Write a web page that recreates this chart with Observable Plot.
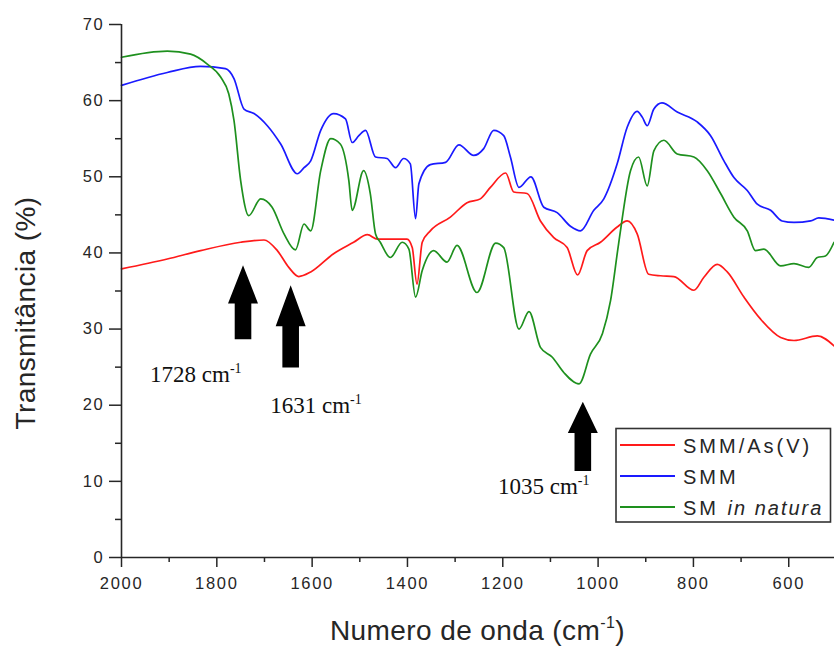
<!DOCTYPE html>
<html>
<head>
<meta charset="utf-8">
<script src="https://cdn.jsdelivr.net/npm/d3@7"></script>
<script src="https://cdn.jsdelivr.net/npm/@observablehq/plot@0.6"></script>
<style>
html, body { margin: 0; padding: 0; background: #fff; }
#chart svg { display: block; }
[aria-label$="tick label"] text { letter-spacing: 1.7px; }
</style>
</head>
<body>
<div id="chart"></div>
<script>
// ---- series ----
const seriesNames = ["SMM/As(V)", "SMM", "SM in natura"];
const seriesColors = ["#ff1a1a", "#1a1aff", "#1e901e"];

const waveRed = [2000,1904,1834,1750,1701,1673,1649,1628,1603,1555,1513,1484,1463,1401,1390,1380,1369,1352,1310,1275,1247,1226,1194,1177,1149,1121,1093,1065,1043,1023,995,960,939,918,894,869,841,799,778,750,729,694,659,617,589,540,505];
const tRed = [37.9,39.2,40.3,41.4,41.7,40.3,38.1,36.9,37.5,39.9,41.4,42.4,41.8,41.8,40.7,35.9,41.4,42.9,44.7,46.6,47.1,48.6,50.5,48.0,47.8,44.2,42.0,40.7,37.1,40.3,41.4,43.4,44.2,42.5,37.2,37.0,36.9,35.1,36.8,38.5,37.5,34.2,31.3,28.9,28.5,29.1,27.8];

const waveBlue = [2000,1904,1834,1782,1764,1743,1722,1694,1666,1631,1617,1603,1582,1555,1530,1516,1502,1488,1467,1443,1425,1408,1394,1383,1376,1352,1320,1292,1261,1240,1219,1198,1184,1166,1141,1114,1086,1058,1037,1009,988,960,939,918,907,897,883,866,834,792,764,736,715,687,666,638,614,589,554,537,505];
const tBlue = [62.0,63.7,64.5,64.2,62.9,58.9,58.3,56.7,54.3,50.4,51.2,52.1,56.1,58.3,57.6,54.5,55.4,56.1,52.6,52.4,51.2,52.4,51.7,44.5,49.1,51.6,51.9,54.2,52.8,53.7,56.1,55.4,52.6,48.6,50.0,46.0,45.3,43.5,42.9,45.6,47.1,51.7,56.5,58.6,57.8,56.7,58.9,59.7,58.5,57.2,55.4,52.1,49.9,48.2,46.4,45.6,44.2,44.0,44.2,44.6,44.3];

const waveGreen = [2000,1904,1855,1820,1792,1775,1764,1750,1733,1708,1684,1659,1635,1617,1603,1582,1561,1541,1523,1516,1492,1478,1467,1457,1436,1411,1397,1383,1369,1345,1317,1296,1254,1215,1198,1166,1145,1121,1096,1072,1040,1016,991,974,957,932,915,897,883,862,834,799,771,743,715,687,670,652,617,589,558,540,523,505];
const tGreen = [65.7,66.5,66.1,64.8,63.1,60.9,57.4,49.5,44.9,47.1,46.0,42.5,40.4,43.8,42.9,50.8,55.0,54.3,49.5,45.6,50.8,47.8,42.5,41.4,39.4,41.4,40.5,34.2,37.7,40.3,38.8,41.0,34.8,41.3,40.7,30.0,32.3,27.6,26.3,24.3,22.8,26.7,29.4,33.7,41.2,50.8,52.6,48.8,53.4,54.8,53.0,52.6,50.8,47.8,44.7,42.9,40.3,40.5,38.3,38.6,38.1,39.4,39.6,41.4];

// ---- ticks ----
const xMajorTicks = [2000,1800,1600,1400,1200,1000,800,600];
const xMinorTicks = [1900,1700,1500,1300,1100,900,700];
const yMajorTicks = [0,10,20,30,40,50,60,70];
const yMinorTicks = [5,15,25,35,45,55,65];

// ---- annotations ----
const peakNumbers = ["1728", "1631", "1035"];
const arrowWave = [1744, 1644, 1031];
const arrowTip = [38.3, 35.7, 20.4];
const arrowNeck = [33.3, 30.3, 16.3];
const arrowTail = [28.6, 24.9, 11.3];
const labelWave = [1939, 1687, 1209];
const labelT = [23.0, 18.9, 8.3];

const xTitle = "Numero de onda (cm";
const yTitle = "Transmitância (%)";

const table = [];
[[waveRed, tRed, 0], [waveBlue, tBlue, 1], [waveGreen, tGreen, 2]].forEach(([w, t, i]) => {
  w.forEach((x, j) => table.push({wave: x, t: t[j], series: seriesNames[i]}));
});

const ink = "#262626";

function arrowsMark(index, scales) {
  const {x, y} = scales;
  const g = d3.create("svg:g").attr("fill", "#000");
  arrowWave.forEach((w, i) => {
    const cx = x(w), yt = y(arrowTip[i]), yn = y(arrowNeck[i]), yb = y(arrowTail[i]);
    const hw = 15, sw = 8.3;
    g.append("path").attr("d",
      `M${cx},${yt}L${cx + hw},${yn}L${cx + sw},${yn}L${cx + sw},${yb}L${cx - sw},${yb}L${cx - sw},${yn}L${cx - hw},${yn}Z`);
  });
  return g.node();
}

function peakLabelMark(index, scales) {
  const {x, y} = scales;
  const g = d3.create("svg:g")
    .attr("font-family", "'Liberation Serif','Times New Roman',serif")
    .attr("font-size", 23).attr("fill", "#111").attr("text-anchor", "start");
  peakNumbers.forEach((s, i) => {
    const t = g.append("text").attr("x", x(labelWave[i])).attr("y", y(labelT[i]));
    t.append("tspan").text(s + " cm");
    t.append("tspan").attr("font-size", 14).attr("dy", -9).text("-1");
  });
  return g.node();
}

function titlesMark(index, scales, values, dims) {
  const {width, height, marginLeft, marginRight} = dims;
  const g = d3.create("svg:g").attr("fill", ink)
    .attr("font-family", "'Liberation Sans', Arial, sans-serif").attr("font-size", 28);
  const cx = (marginLeft + width - marginRight) / 2;
  const xt = g.append("text").attr("x", cx).attr("y", height - 8)
    .attr("text-anchor", "middle").attr("letter-spacing", 0.4);
  xt.append("tspan").text(xTitle);
  xt.append("tspan").attr("font-size", 16).attr("dy", -12).text("-1");
  xt.append("tspan").attr("dy", 12).text(")");
  g.append("text").attr("transform", `translate(35,313) rotate(-90)`)
    .attr("text-anchor", "middle").attr("letter-spacing", 0.4).text(yTitle);
  return g.node();
}

function legendMark() {
  const g = d3.create("svg:g").attr("text-anchor", "start");
  g.append("rect").attr("x", 616).attr("y", 428.5).attr("width", 214.5).attr("height", 93.5)
    .attr("fill", "#fff").attr("stroke", "#333").attr("stroke-width", 1.6);
  seriesNames.forEach((name, i) => {
    const yy = 445 + i * 31;
    g.append("line").attr("x1", 620).attr("x2", 675).attr("y1", yy).attr("y2", yy)
      .attr("stroke", seriesColors[i]).attr("stroke-width", 2);
    const t = g.append("text").attr("x", 683).attr("y", yy + 8)
      .attr("font-family", "'Liberation Sans', Arial, sans-serif").attr("font-size", 20)
      .attr("letter-spacing", 3).attr("fill", ink);
    if (name.endsWith("in natura")) {
      t.append("tspan").text("SM ");
      t.append("tspan").attr("font-style", "italic").attr("letter-spacing", 2).text("in natura");
    } else {
      t.text(name);
    }
  });
  return g.node();
}

const chart = Plot.plot({
  width: 834,
  height: 648,
  marginLeft: 121,
  marginRight: 0,
  marginTop: 24,
  marginBottom: 91,
  style: {fontFamily: "'Liberation Sans', Arial, sans-serif", background: "#fff", overflow: "visible"},
  x: {domain: [2000, 504], axis: null},
  y: {domain: [0, 70], axis: null},
  color: {domain: seriesNames, range: seriesColors},
  marks: [
    Plot.line(table, {x: "wave", y: "t", stroke: "series", z: "series", strokeWidth: 1.7, curve: "monotone-x"}),
    Plot.axisX({ticks: xMajorTicks, tickSize: 10, tickPadding: 10, fontSize: 16.5, tickFormat: d3.format("d"), label: null, color: ink, strokeWidth: 1.5}),
    Plot.axisX({ticks: xMinorTicks, tickSize: 5, tickFormat: () => "", label: null, color: ink, strokeWidth: 1.5}),
    Plot.axisY({ticks: yMajorTicks, tickSize: 12, tickPadding: 5, fontSize: 16.5, tickFormat: d3.format("d"), label: null, color: ink, strokeWidth: 1.5}),
    Plot.axisY({ticks: yMinorTicks, tickSize: 6, tickFormat: () => "", label: null, color: ink, strokeWidth: 1.5}),
    Plot.ruleX([2000], {stroke: ink, strokeWidth: 1.6}),
    Plot.ruleY([0], {stroke: ink, strokeWidth: 1.6}),
    arrowsMark,
    peakLabelMark,
    titlesMark,
    legendMark
  ]
});

document.getElementById("chart").appendChild(chart);
</script>
</body>
</html>
